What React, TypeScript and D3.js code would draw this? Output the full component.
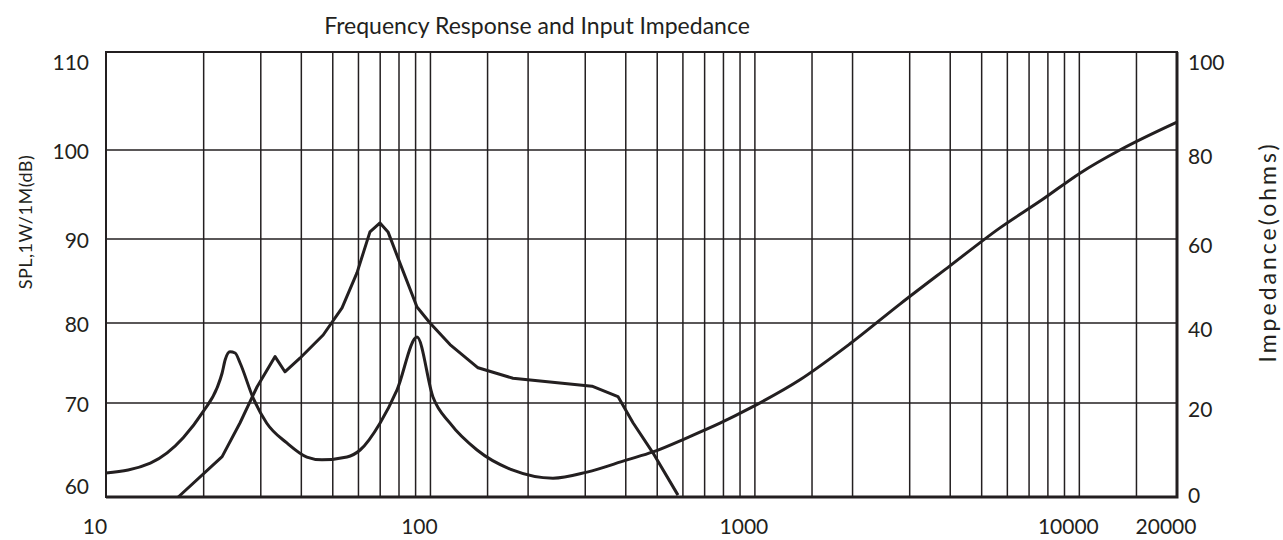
import React, { useRef, useEffect } from 'react'
import * as d3 from 'd3'

// x axis labels and log grid lines
const FREQ_LABELS = [10, 100, 1000, 10000, 20000]
const FREQ_GRID = [
	20, 30, 40, 50, 60, 70, 80, 90, 100, 150, 200, 300, 400, 500, 600, 700, 800, 900, 1000, 1500, 2000, 3000, 4000,
	5000, 6000, 7000, 8000, 9000, 10000, 15000,
]
const SPL_TICKS = [60, 70, 80, 90, 100, 110]
const IMP_TICKS = [0, 20, 40, 60, 80, 100]

// impedance curve (right axis, ohms)
const impFreq = [
	10, 13.7, 17.3, 19.9, 22.0, 22.8, 23.3, 24.1, 25.0, 25.9, 28.4, 31.3, 36.1, 41.6, 46.3, 55.3, 60.7, 69.9, 78.9,
	90.9, 101.8, 114.9, 139.2, 179.6, 238.6, 303.8, 403.5, 485.2, 617.6, 780.5, 965.8, 1377, 1964, 2800, 3992, 5693,
	7673, 10046, 13335, 20000,
]
const impOhms = [
	5.1, 7.2, 12.6, 18.1, 23.8, 27.5, 30.8, 32.8, 32.5, 30, 21.3, 15.7, 11.5, 8.5, 7.9, 8.5, 10.0, 15.7, 23.3, 36.5,
	21.5, 15.7, 10.0, 5.7, 4.0, 5.3, 7.9, 9.6, 12.6, 15.7, 18.9, 25.8, 34.8, 44.5, 53.6, 62.5, 68.8, 74.8, 80, 85.7,
]

// SPL curve (left axis, dB)
const splFreq = [
	16.7, 22.8, 25.9, 29.2, 33.2, 35.6, 39.6, 46.7, 53.4, 59.4, 65.1, 69.9, 74.0, 80.6, 90.9, 99.7, 114.9, 140.2,
	179.6, 314.7, 378.4, 421, 485, 579.4,
]
const splDb = [
	60, 64.3, 67.9, 72.0, 75.8, 73.9, 75.6, 78.5, 81.8, 86.0, 90.8, 91.8, 90.8, 87.1, 81.9, 80, 77.3, 74.4, 73.1, 72.1,
	70.8, 67.9, 64.7, 60.2,
]

const INK = '#231f20'
const FONT = 'Lato, sans-serif'

const App = () => {
	const svgRef = useRef(null)

	useEffect(() => {
		const svg = d3.select(svgRef.current)
		svg.selectAll('*').remove()

		const width = 1283
		const height = 540
		const left = 106
		const right = 1177
		const top = 52
		const bottom = 497

		svg.attr('width', width).attr('height', height)

		const x = d3.scaleLog().domain([10, 20000]).range([left, right])
		// the printed grid rows are not evenly spaced, so the scales follow them
		const ySpl = d3.scaleLinear().domain(SPL_TICKS).range([bottom, 403, 323, 239, 150, top])
		const yImp = d3.scaleLinear().domain(IMP_TICKS).range([bottom, 403, 323, 239, 150, top])

		// grid
		const grid = svg.append('g').attr('stroke', INK).attr('stroke-width', 1.5)
		grid
			.selectAll('.vg')
			.data(FREQ_GRID)
			.enter()
			.append('line')
			.attr('x1', d => x(d))
			.attr('x2', d => x(d))
			.attr('y1', top)
			.attr('y2', bottom)
		grid
			.selectAll('.hg')
			.data(SPL_TICKS.slice(1, -1))
			.enter()
			.append('line')
			.attr('x1', left)
			.attr('x2', right)
			.attr('y1', d => ySpl(d))
			.attr('y2', d => ySpl(d))

		// frame
		svg
			.append('rect')
			.attr('x', left)
			.attr('y', top)
			.attr('width', right - left)
			.attr('height', bottom - top)
			.attr('fill', 'none')
			.attr('stroke', INK)
			.attr('stroke-width', 2)
		svg
			.append('path')
			.attr('d', `M${left},${bottom}H${right}V${top}`)
			.attr('fill', 'none')
			.attr('stroke', INK)
			.attr('stroke-width', 3)

		// curves
		const impLine = d3
			.line()
			.x((d, i) => x(impFreq[i]))
			.y(d => yImp(d))
			.curve(d3.curveMonotoneX)
		svg
			.append('path')
			.datum(impOhms)
			.attr('fill', 'none')
			.attr('stroke', INK)
			.attr('stroke-width', 3)
			.attr('stroke-linejoin', 'round')
			.attr('d', impLine)

		const splLine = d3
			.line()
			.x((d, i) => x(splFreq[i]))
			.y(d => ySpl(d))
			.curve(d3.curveLinear)
		svg
			.append('path')
			.datum(splDb)
			.attr('fill', 'none')
			.attr('stroke', INK)
			.attr('stroke-width', 3)
			.attr('stroke-linejoin', 'round')
			.attr('d', splLine)

		// tick labels
		const labels = svg.append('g').attr('fill', INK).attr('font-family', FONT).attr('font-size', 21)
		labels
			.selectAll('.xl')
			.data(FREQ_LABELS)
			.enter()
			.append('text')
			.attr('x', d => x(d) - 11)
			.attr('y', 525)
			.attr('text-anchor', 'middle')
			.attr('dominant-baseline', 'central')
			.text(d => d)
		labels
			.selectAll('.yl')
			.data(SPL_TICKS)
			.enter()
			.append('text')
			.attr('x', 89)
			.attr('y', d => Math.min(Math.max(ySpl(d), top + 9), bottom - 12))
			.attr('text-anchor', 'end')
			.attr('dominant-baseline', 'central')
			.text(d => d)
		labels
			.selectAll('.yr')
			.data(IMP_TICKS)
			.enter()
			.append('text')
			.attr('x', 1188)
			.attr('y', d => Math.min(Math.max(yImp(d) + 5, top + 9), bottom - 3))
			.attr('text-anchor', 'start')
			.attr('dominant-baseline', 'central')
			.text(d => d)

		// titles
		svg
			.append('text')
			.attr('x', 537)
			.attr('y', 34)
			.attr('text-anchor', 'middle')
			.attr('font-family', FONT)
			.attr('font-size', 23)
			.attr('fill', INK)
			.text('Frequency Response and Input Impedance')
		svg
			.append('text')
			.attr('transform', 'translate(25,222) rotate(-90)')
			.attr('text-anchor', 'middle')
			.attr('dominant-baseline', 'central')
			.attr('font-family', FONT)
			.attr('font-size', 18)
			.attr('letter-spacing', 0.5)
			.attr('fill', INK)
			.text('SPL,1W/1M(dB)')
		svg
			.append('text')
			.attr('transform', 'translate(1267,252) rotate(-90)')
			.attr('text-anchor', 'middle')
			.attr('dominant-baseline', 'central')
			.attr('font-family', FONT)
			.attr('font-size', 23)
			.attr('letter-spacing', 3)
			.attr('fill', INK)
			.text('Impedance(ohms)')
	}, [])

	return <svg ref={svgRef} style={{ position: 'absolute', left: 0, top: 0, background: '#fff' }}></svg>
}

export default App
